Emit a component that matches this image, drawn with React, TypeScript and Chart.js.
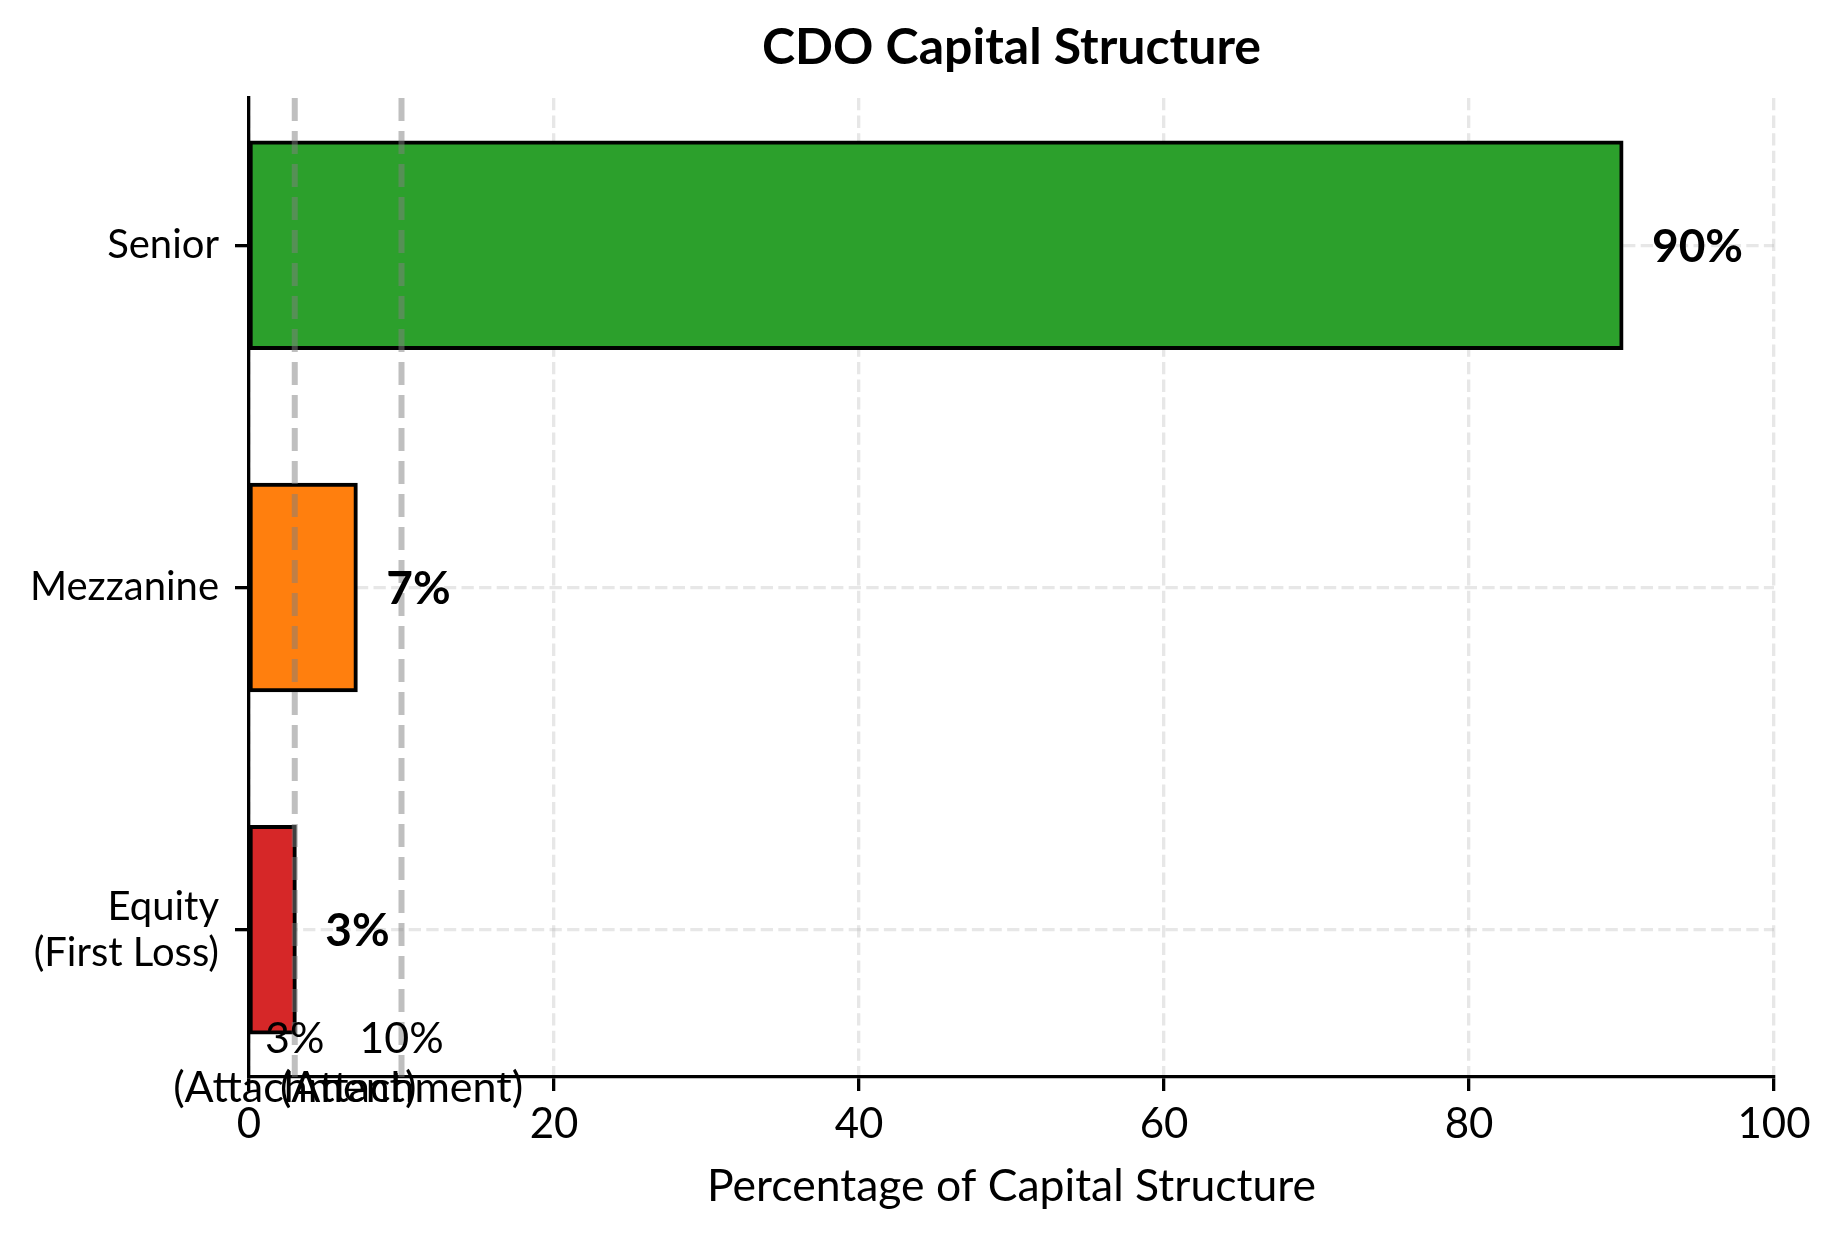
import { useEffect, useRef } from 'react';
import { Chart, registerables, Plugin, ChartConfiguration } from 'chart.js';

Chart.register(...registerables);

const FONT = 'Lato, "Noto Sans", sans-serif';

// Транши снизу вверх (как в barh): индекс = позиция на оси Y
const trancheLabels = [['Equity', '(First Loss)'], ['Mezzanine'], ['Senior']];
const trancheShare = [3, 7, 90];
const trancheColors = ['#d62728', '#ff7f0e', '#2ca02c'];

// Точки присоединения траншей
const attachmentPoints = [3, 10];
const attachmentText = [['3%', '(Attachment)'], ['10%', '(Attachment)']];

const xTickValues = [0, 20, 40, 60, 80, 100];

const GRID_COLOR = 'rgba(176,176,176,0.3)';

// Пунктир точек присоединения, подписи значений и заголовок поверх осей
const overlayPlugin: Plugin<'bar'> = {
  id: 'cdoOverlay',
  afterDraw(chart) {
    const { ctx, chartArea, scales } = chart;
    const xs = scales.x;
    const ys = scales.y;
    ctx.save();

    ctx.strokeStyle = 'rgba(128,128,128,0.5)';
    ctx.lineWidth = 6;
    ctx.setLineDash([23, 10]);
    attachmentPoints.forEach((p) => {
      const px = xs.getPixelForValue(p);
      ctx.beginPath();
      ctx.moveTo(px, chartArea.top);
      ctx.lineTo(px, chartArea.bottom);
      ctx.stroke();
    });
    ctx.setLineDash([]);

    ctx.fillStyle = '#000';
    ctx.font = `bold 46px ${FONT}`;
    ctx.textAlign = 'left';
    ctx.textBaseline = 'alphabetic';
    trancheShare.forEach((v, i) => {
      const t = `${v}%`;
      const asc = ctx.measureText(t).actualBoundingBoxAscent;
      ctx.fillText(t, xs.getPixelForValue(v + 2), ys.getPixelForValue(i) + asc / 2);
    });

    ctx.font = `43px ${FONT}`;
    ctx.textAlign = 'center';
    attachmentPoints.forEach((p, i) => {
      const cx = xs.getPixelForValue(p);
      const cy = ys.getPixelForValue(-0.4);
      ctx.fillText(attachmentText[i][0], cx, cy - 14);
      ctx.fillText(attachmentText[i][1], cx, cy + 35);
    });

    ctx.font = `bold 50px ${FONT}`;
    ctx.fillText('CDO Capital Structure', (chartArea.left + chartArea.right) / 2, 64);
    ctx.restore();
  },
};

export default function App() {
  const canvasRef = useRef<HTMLCanvasElement>(null);
  const chartRef = useRef<Chart | null>(null);

  useEffect(() => {
    document.body.style.margin = '0';
    if (!canvasRef.current) return;
    if (chartRef.current) chartRef.current.destroy();

    Chart.defaults.font.family = FONT;
    Chart.defaults.color = '#000';

    const config: ChartConfiguration<'bar'> = {
      type: 'bar',
      data: {
        datasets: [
          {
            data: trancheShare.map((v, i) => ({ x: v, y: i })) as any,
            backgroundColor: trancheColors,
            borderColor: '#000',
            borderWidth: 4,
            borderSkipped: false,
            inflateAmount: 2,
            categoryPercentage: 1,
            barPercentage: 0.6,
          },
        ],
      },
      options: {
        animation: false,
        responsive: false,
        indexAxis: 'y',
        layout: { padding: { top: 98, right: 60, left: 0, bottom: 0 } },
        plugins: {
          legend: { display: false },
          tooltip: { enabled: false },
        },
        scales: {
          x: {
            type: 'linear',
            min: 0,
            max: 100,
            z: 1,
            afterBuildTicks: (axis) => {
              axis.ticks = xTickValues.map((value) => ({ value }));
            },
            ticks: { font: { size: 42 }, color: '#000', padding: 8 },
            grid: {
              color: GRID_COLOR,
              lineWidth: 3.3,
              tickColor: '#000',
              tickLength: 14,
              tickWidth: 3.3,
            },
            border: { display: true, color: '#000', width: 3.3, dash: [12.3, 5.3] },
            title: {
              display: true,
              text: 'Percentage of Capital Structure',
              font: { size: 44.5 },
              color: '#000',
              padding: { top: 0, bottom: 21 },
            },
            afterFit: (axis) => {
              axis.height = 157;
            },
          },
          y: {
            type: 'linear',
            min: -0.43,
            max: 2.43,
            offset: false,
            z: 1,
            afterBuildTicks: (axis) => {
              axis.ticks = trancheLabels.map((_, i) => ({ value: i }));
            },
            ticks: {
              font: { size: 40, lineHeight: 1.15 },
              color: '#000',
              padding: 16,
              callback: (v) => trancheLabels[v as number],
            },
            grid: {
              offset: false,
              color: GRID_COLOR,
              lineWidth: 3.3,
              tickColor: '#000',
              tickLength: 14,
              tickWidth: 3.3,
            },
            border: { display: true, color: '#000', width: 3.3, dash: [12.3, 5.3] },
            afterFit: (axis) => {
              axis.width = 249;
            },
          },
        },
      },
      plugins: [overlayPlugin],
    };

    chartRef.current = new Chart(canvasRef.current, config);

    return () => {
      if (chartRef.current) {
        chartRef.current.destroy();
        chartRef.current = null;
      }
    };
  }, []);

  return <canvas ref={canvasRef} width={1834} height={1234} style={{ display: 'block' }} />;
}
